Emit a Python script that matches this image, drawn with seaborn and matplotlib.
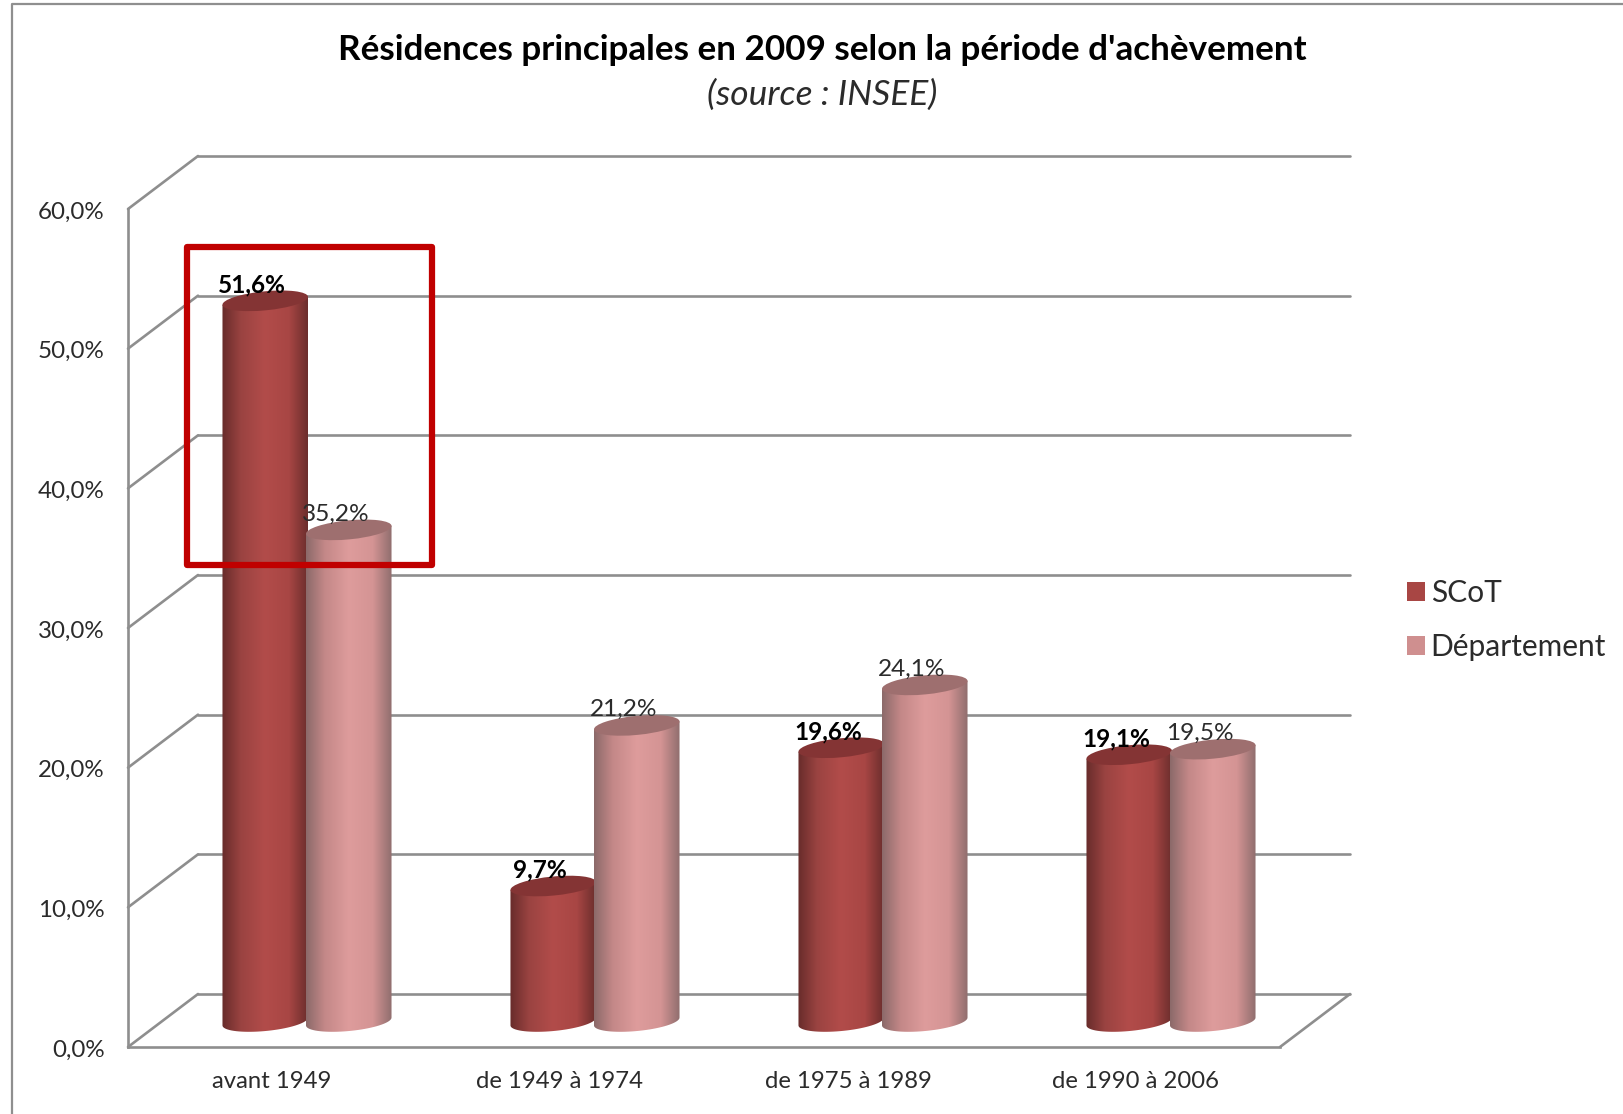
import numpy as np
import pandas as pd
import seaborn as sns
import matplotlib
matplotlib.use("Agg")
import matplotlib.pyplot as plt
from matplotlib.lines import Line2D
from matplotlib.patches import Ellipse, PathPatch, Rectangle
from matplotlib.path import Path
from matplotlib.transforms import Affine2D, IdentityTransform

periodes = ["avant 1949", "de 1949 à 1974", "de 1975 à 1989", "de 1990 à 2006"]
scot = [51.6, 9.7, 19.6, 19.1]
departement = [35.2, 21.2, 24.1, 19.5]
series = ["SCoT", "Département"]
yticks = [0, 10, 20, 30, 40, 50, 60]
ytick_labels = ["0,0%", "10,0%", "20,0%", "30,0%", "40,0%", "50,0%", "60,0%"]
titre = "Résidences principales en 2009 selon la période d'achèvement"
sous_titre = "(source : INSEE)"

W, H = 1623, 1114
FONT = "Lato"
GRID = "#8e8e8e"
TXT = "#2b2b2b"
BASE = {"SCoT": "#A84644", "Département": "#CF8F8F"}
TOPC = {"SCoT": "#843434", "Département": "#9E6F6F"}
STOPS = {
    "SCoT": ["#682C2B", "#9A4341", "#B24C4A", "#A84644", "#6C2E2D"],
    "Département": ["#8C6A6A", "#C48888", "#DE9C9C", "#D49494", "#906E6E"],
}
STOP_POS = [0.0, 0.22, 0.5, 0.78, 1.0]

df = pd.DataFrame({
    "periode": periodes * 2,
    "part": scot + departement,
    "serie": [series[0]] * 4 + [series[1]] * 4,
})

sns.set_theme(style="white")
plt.rcParams["font.family"] = [FONT, "DejaVu Sans"]
fig = plt.figure(figsize=(W / 100, H / 100), dpi=100, facecolor="white")


def box(x0, x1, ytop, ybot):
    return [x0 / W, 1 - ybot / H, (x1 - x0) / W, (ybot - ytop) / H]


FX0, FX1, FY60, FY0 = 128, 1280, 209, 1047
DX, DY = 70, 53
LW = 1.9

ax = fig.add_axes(box(FX0, FX1, FY60, FY0), facecolor="none")
ax.set_xlim(-0.5, 3.5)
ax.set_ylim(0, 60)
ax.set_xticks(range(4))
ax.set_xticklabels(periodes, fontsize=17.2, color=TXT, family=FONT)
ax.set_yticks(yticks)
ax.set_yticklabels(ytick_labels, fontsize=17.4, color=TXT, family=FONT)
ax.tick_params(axis="x", length=0, pad=17)
ax.tick_params(axis="y", length=0, pad=17)
for lbl in ax.get_yticklabels():
    lbl.set_transform(lbl.get_transform() + Affine2D().translate(0, -1))
for s in ["top", "right"]:
    ax.spines[s].set_visible(False)
for s in ["left", "bottom"]:
    ax.spines[s].set_color(GRID)
    ax.spines[s].set_linewidth(LW)

back = ax.transData + Affine2D().translate(DX, DY)
for v in yticks:
    ax.plot([-0.5, 3.5], [v, v], color=GRID, lw=LW, transform=back, clip_on=False, solid_capstyle="round")
    p0 = ax.transData.transform((-0.5, v))
    ax.add_line(Line2D([p0[0], p0[0] + DX], [p0[1], p0[1] + DY], color=GRID, lw=LW,
                       transform=IdentityTransform(), clip_on=False))
p1 = ax.transData.transform((3.5, 0))
ax.add_line(Line2D([p1[0], p1[0] + DX], [p1[1], p1[1] + DY], color=GRID, lw=LW,
                   transform=IdentityTransform(), clip_on=False))

# Bars stand halfway through the depth of the chart
ax2 = fig.add_axes(box(FX0 + DX / 2, FX1 + DX / 2, FY60 - DY / 2 + 1, FY0 - DY / 2 + 1), facecolor="none")
ax2.set_zorder(2)
sns.barplot(data=df, x="periode", y="part", hue="serie", order=periodes, hue_order=series,
            palette=BASE, width=0.58, gap=0, saturation=1, ax=ax2, errorbar=None)
ax2.set_xlim(-0.5, 3.5)
ax2.set_ylim(0, 60)

ELL_H = 19
TILT = 5.5
GROW = 1.0
sin_t, cos_t = np.sin(np.radians(TILT)), np.cos(np.radians(TILT))
bars = [b for b in ax2.patches if b.get_height() > 0]
hue_of = [series[0]] * 4 + [series[1]] * 4
for i, (bar, name) in enumerate(zip(bars, hue_of)):
    x0, w, h = bar.get_x(), bar.get_width(), bar.get_height()
    (px0, py0) = ax2.transData.transform((x0, 0))
    (px1, py1) = ax2.transData.transform((x0 + w, h))
    px_per_x = (px1 - px0) / w
    px0 -= GROW
    px1 += GROW
    cx = (px0 + px1) / 2
    a = (px1 - px0) / 2 / cos_t
    b_ = ELL_H / 2
    z = 3 + (0 if name == series[0] else 1) + i * 0.01
    # outline of the cylinder body, in pixels
    t = np.linspace(np.pi, 2 * np.pi, 40)
    ex = a * np.cos(t) * cos_t - b_ * np.sin(t) * sin_t
    ey = a * np.cos(t) * sin_t + b_ * np.sin(t) * cos_t
    vx = np.r_[cx + ex, cx + ex[-1], cx + ex[0], cx + ex[0]]
    vy = np.r_[py0 + ey, py1 + ey[-1], py1 + ey[0], py0 + ey[0]]
    outline = PathPatch(Path(np.c_[vx, vy]), transform=IdentityTransform(), fc="none", ec="none")
    ax2.add_patch(outline)
    stops = np.array([matplotlib.colors.to_rgb(c) for c in STOPS[name]])
    u = np.linspace(0, 1, 128)
    grad = np.stack([np.interp(u, STOP_POS, stops[:, k]) for k in range(3)], axis=1)[None, :, :]
    g = GROW / px_per_x
    im = ax2.imshow(grad, extent=(x0 - g, x0 + w + g, -3, h + 3), aspect="auto", origin="lower",
                    interpolation="bilinear", zorder=z)
    im.set_clip_box(fig.bbox)
    im.set_clip_path(outline)
    # top face
    top = Ellipse((0, 0), 2 * a, 2 * b_, fc=TOPC[name], ec="none", zorder=z + 0.005, clip_on=False,
                  transform=Affine2D().rotate_deg(TILT).translate(cx, py1))
    ax2.add_patch(top)
    bar.set_visible(False)
    # value label
    lab = f"{h:.1f}%".replace(".", ",")
    ax2.annotate(lab, xy=(x0 + w / 2, h), xytext=(-13, 16), textcoords="offset pixels",
                 ha="center", va="center", fontsize=17.6,
                 fontweight="bold" if name == series[0] else "normal",
                 color="black" if name == series[0] else TXT, zorder=20, annotation_clip=False)

ax2.set_xlim(-0.5, 3.5)
ax2.set_ylim(0, 60)
ax2.axis("off")

hd = [Rectangle((0, 0), 1, 1, fc=BASE[s], ec="none") for s in series]
if ax2.get_legend():
    ax2.get_legend().remove()
fig.legend(hd, series, loc="center left", bbox_to_anchor=(1398 / W, 1 - 620 / H), frameon=False,
           fontsize=21.5, handlelength=0.59, handleheight=0.59, handletextpad=0.2, labelspacing=0.88,
           labelcolor=TXT, borderaxespad=0, borderpad=0.3)

fig.text(822 / W, 1 - 50 / H, titre, ha="center", va="center", fontsize=25.2, fontweight="bold", color="black")
fig.text(822 / W, 1 - 95 / H, sous_titre, ha="center", va="center", fontsize=25.5, fontstyle="italic", color=TXT)

# Chart frame and the red highlight box
fig.add_artist(Line2D([12 / W, 12 / W, 1], [0, 1 - 4 / H, 1 - 4 / H], color="#8f8f8f", lw=1.6, transform=fig.transFigure))
fig.add_artist(Rectangle((187 / W, 1 - 565 / H), (432 - 187) / W, (565 - 247) / H, fc="none", ec="#C00000",
                         lw=4.5, joinstyle="round", transform=fig.transFigure, zorder=15))

fig.savefig("out.png", dpi=100, facecolor="white")
